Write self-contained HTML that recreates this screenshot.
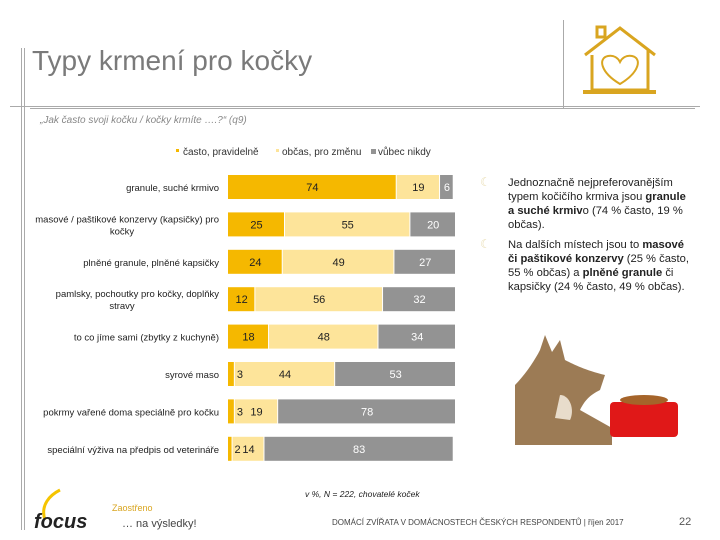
<!DOCTYPE html>
<html><head><meta charset="utf-8">
<style>
html,body{margin:0;padding:0;background:#fff;}
svg{display:block;font-family:"Liberation Sans",sans-serif;}
</style></head>
<body>
<svg id="chart" width="720" height="540" viewBox="0 0 720 540" xmlns="http://www.w3.org/2000/svg">
  <g stroke="#aaa" stroke-width="1">
    <line x1="21.5" y1="48" x2="21.5" y2="530"/>
    <line x1="24.5" y1="48" x2="24.5" y2="530"/>
    <line x1="10" y1="106.5" x2="700" y2="106.5"/>
    <line x1="30" y1="108.5" x2="695" y2="108.5"/>
    <line x1="563.5" y1="20" x2="563.5" y2="108"/>
  </g>
  <text x="32" y="70" font-size="28" fill="#7a7a7a">Typy krmení pro kočky</text>
  <g fill="none" stroke="#D9A520" stroke-width="3">
    <polyline points="585,55 620,28 655,55"/>
    <rect x="597" y="27" width="8" height="10"/>
    <polyline points="592,55 592,90 648,90 648,50"/>
    <line x1="583" y1="92" x2="656" y2="92" stroke-width="4"/>
    <path d="M620,84 C600,72 598,58 608,56 C614,55 618,58 620,62 C622,58 626,55 632,56 C642,58 640,72 620,84 Z" stroke-width="2"/>
  </g>
  <text x="40" y="123" font-size="10" font-style="italic" fill="#888">„Jak často svoji kočku / kočky krmíte ….?“ (q9)</text>
  <g font-size="10" fill="#333">
    <rect x="176" y="149" width="3" height="3" fill="#F5B800"/>
    <text x="183" y="155">často, pravidelně</text>
    <rect x="276" y="149" width="3" height="3" fill="#FDE49A"/>
    <text x="282" y="155">občas, pro změnu</text>
    <rect x="371" y="149" width="5" height="5" fill="#939393"/>
    <text x="378" y="155">vůbec nikdy</text>
  </g>
  <g id="bars"></g>
  <g id="labels"></g>
  <g font-size="11.2" fill="#222">
    <text x="480" y="186" fill="#e8dcb0" font-size="12">☾</text>
    <text x="508" y="186">Jednoznačně nejpreferovanějším</text>
    <text x="508" y="200">typem kočičího krmiva jsou <tspan font-weight="bold">granule</tspan></text>
    <text x="508" y="214"><tspan font-weight="bold">a suché krmiv</tspan>o (74 % často, 19 %</text>
    <text x="508" y="228">občas).</text>
    <text x="480" y="248" fill="#e8dcb0" font-size="12">☾</text>
    <text x="508" y="248">Na dalších místech jsou to <tspan font-weight="bold">masové</tspan></text>
    <text x="508" y="262"><tspan font-weight="bold">či paštikové konzervy</tspan> (25 % často,</text>
    <text x="508" y="276">55 % občas) a <tspan font-weight="bold">plněné granule</tspan> či</text>
    <text x="508" y="290">kapsičky (24 % často, 49 % občas).</text>
  </g>
  <g>
    <path d="M515,445 L515,385 C525,375 535,360 540,350 L545,335 L552,352 L560,340 L565,360 C575,365 585,370 605,375 L600,390 C590,395 585,400 580,410 L612,428 L612,445 Z" fill="#9c7b55"/>
    <path d="M560,395 C570,395 575,410 570,420 L555,418 Z" fill="#e8dccb"/>
    <rect x="610" y="402" width="68" height="35" rx="4" fill="#e01818"/>
    <ellipse cx="644" cy="400" rx="24" ry="5" fill="#a5642a"/>
  </g>
  <text x="305" y="497" font-size="8.5" font-style="italic" fill="#222">v %, N = 222, chovatelé koček</text>
  <g>
    <path d="M45,520 C40,505 50,495 60,490" stroke="#F5C400" stroke-width="3" fill="none"/>
    <text x="34" y="528" font-size="20" font-weight="bold" font-style="italic" fill="#222">focus</text>
    <text x="112" y="511" font-size="9" fill="#D9A520">Zaostřeno</text>
    <text x="122" y="527" font-size="11" fill="#444">… na výsledky!</text>
  </g>
  <text x="332" y="525" font-size="8" fill="#444">DOMÁCÍ ZVÍŘATA V DOMÁCNOSTECH ČESKÝCH RESPONDENTŮ | říjen 2017</text>
  <text x="679" y="525" font-size="11" fill="#555">22</text>
</svg>
<script>
const categories = ["granule, suché krmivo","masové / paštikové konzervy (kapsičky) pro|kočky","plněné granule, plněné kapsičky","pamlsky, pochoutky pro kočky, doplňky|stravy","to co jíme sami (zbytky z kuchyně)","syrové maso","pokrmy vařené doma speciálně pro kočku","speciální výživa na předpis od veterináře"];
const often = [74,25,24,12,18,3,3,2];
const sometimes = [19,55,49,56,48,44,19,14];
const never = [6,20,27,32,34,53,78,83];
const seriesColors = ["#F5B800","#FDE49A","#939393"];
const textColors = ["#222","#222","#fff"];

const NS = "http://www.w3.org/2000/svg";
const g = document.getElementById("bars");
const gl = document.getElementById("labels");
const x0 = 228, unit = 2.28, y0 = 187, step = 37.4, bh = 24;
const xs = v => v * unit;
const yc = i => y0 + i * step;
function mk(tag, attrs){const e=document.createElementNS(NS,tag);for(const k in attrs)e.setAttribute(k,attrs[k]);return e;}
categories.forEach((c,i)=>{
  const lines = c.split("|");
  lines.forEach((ln,j)=>{
    const t = mk("text",{x:219,y:yc(i)+4-(lines.length-1)*6+j*12,"font-size":9.5,fill:"#222","text-anchor":lines.length>1&&j==1?"middle":"end"});
    if(lines.length>1&&j==1) t.setAttribute("x",122);
    t.textContent = ln;
    
    
    gl.appendChild(t);
  });
  const vals=[often[i],sometimes[i],never[i]];
  let acc=0;
  vals.forEach((v,s)=>{
    const r = mk("rect",{x:x0+xs(acc),y:yc(i)-bh/2,width:Math.max(xs(v)-1,1),height:bh,fill:seriesColors[s]});
    
    
    g.appendChild(r);
    const w = xs(v);
    let tx = x0+xs(acc)+w/2, anchor="middle";
    if (w < 12) { tx = x0+xs(acc)+w+2; anchor="start"; }
    const t = mk("text",{x:tx,y:yc(i)+4,"font-size":11,fill:textColors[s],"text-anchor":anchor});
    t.textContent = v;
    
    
    gl.appendChild(t);
    acc+=v;
  });
});
</script>
</body></html>
